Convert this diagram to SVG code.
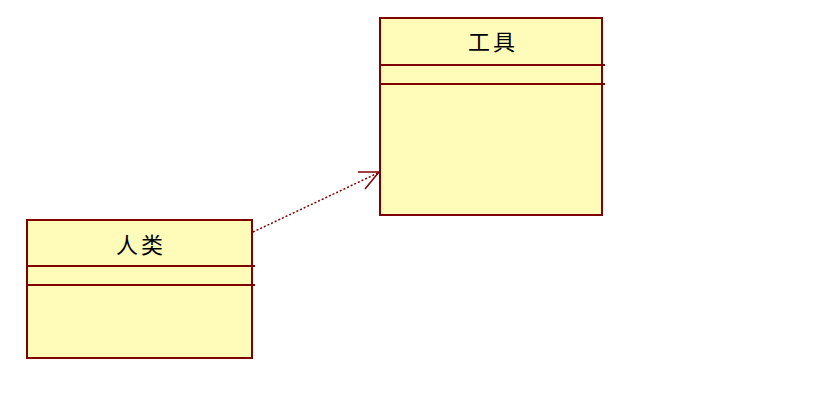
<svg xmlns="http://www.w3.org/2000/svg" width="834" height="416" viewBox="0 0 834 416">
<style>
.box{fill:#fffcb9;stroke:#800000;stroke-width:2}
.sep{stroke:#800000;stroke-width:2}
.t{font-family:"Liberation Serif","Noto Sans CJK SC",serif;font-size:22px;letter-spacing:3px;fill:#000;text-anchor:middle}
.dep{fill:none;stroke:#800000;stroke-width:1.5;stroke-dasharray:2,2}
.head{fill:none;stroke:#800000;stroke-width:1.5}
</style>
<rect width="834" height="416" fill="#fff"/>
<g id="tool">
<rect class="box" x="380" y="18" width="222" height="197"/>
<line class="sep" x1="380" y1="65" x2="605" y2="65"/>
<line class="sep" x1="380" y1="84" x2="605" y2="84"/>
<text class="t" x="493" y="50">工具</text>
</g>
<g id="human">
<rect class="box" x="27" y="220" width="225" height="138"/>
<line class="sep" x1="27" y1="266" x2="255" y2="266"/>
<line class="sep" x1="27" y1="285" x2="255" y2="285"/>
<text class="t" x="141" y="253">人类</text>
</g>
<g id="connectors">
<line class="dep" x1="253" y1="232" x2="378" y2="173"/>
<polyline class="head" points="358,172 379,172 365,189"/>
</g>
</svg>
